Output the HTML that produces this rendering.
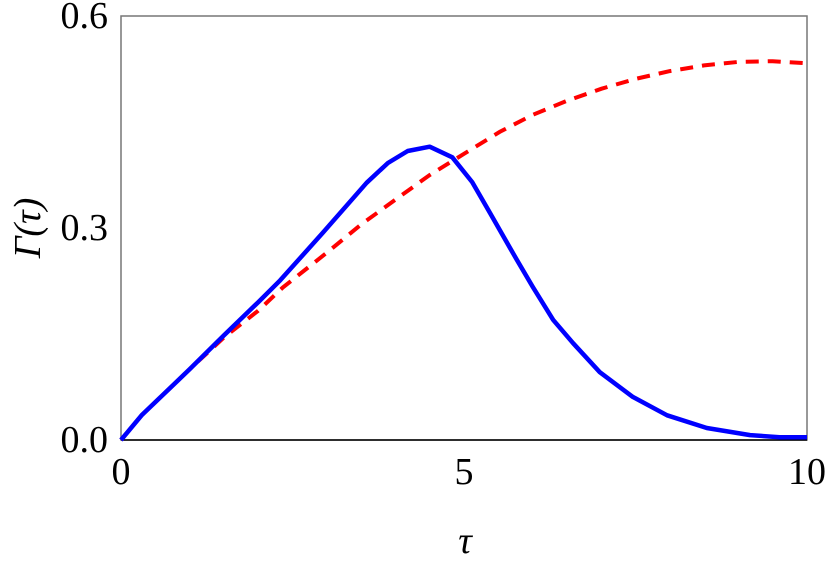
<!DOCTYPE html>
<html><head><meta charset="utf-8"><style>
body{margin:0;background:#fff}
svg text{font-family:"Liberation Serif",serif;font-size:38px;fill:#000}
</style></head><body>
<svg width="830" height="561">
<rect x="121" y="16" width="686" height="424" fill="none" stroke="#777" stroke-width="1.5"/>
<line x1="121" y1="440" x2="807" y2="440" stroke="#000" stroke-width="1.5"/>
<g id="ticks"></g>
<path id="red" fill="none" stroke="#f00" stroke-width="4" stroke-dasharray="13,9"/>
<path id="blue" fill="none" stroke="#00f" stroke-width="4.5" stroke-linejoin="round"/>
<text x="465" y="553" text-anchor="middle" font-style="italic">τ</text>
<text transform="translate(40,228) rotate(-90)" text-anchor="middle" font-style="italic">Γ(τ)</text>
</svg>
<script>
const xTicks=[0,5,10];
const yTicks=[0,0.3,0.6];
const yLabels=["0.0","0.3","0.6"];
const blueX=[0,0.3,1,1.5,2,2.32,2.94,3.58,3.89,4.18,4.5,4.83,5.12,5.38,5.77,6,6.3,6.59,6.98,7.46,7.96,8.54,9.17,9.6,10];
const blueY=[0,0.035,0.1,0.148,0.195,0.226,0.293,0.364,0.392,0.409,0.415,0.4,0.365,0.321,0.255,0.217,0.17,0.137,0.096,0.061,0.035,0.017,0.007,0.004,0.004];
const redX=[0,0.3,1,1.5,2,2.36,3,3.5,4,4.5,4.8,5,5.52,6,6.5,7,7.5,8,8.5,9,9.5,10];
const redY=[0,0.035,0.1,0.145,0.183,0.216,0.265,0.305,0.34,0.375,0.393,0.405,0.436,0.46,0.48,0.497,0.511,0.522,0.53,0.535,0.536,0.533];
const X=v=>121+v*68.6, Y=v=>440-v*706.7;
const path=(xs,ys)=>xs.map((x,i)=>(i?'L':'M')+X(x).toFixed(1)+','+Y(ys[i]).toFixed(1)).join('');
document.getElementById('blue').setAttribute('d',path(blueX,blueY));
document.getElementById('red').setAttribute('d',path(redX,redY));
const g=document.getElementById('ticks');const ns='http://www.w3.org/2000/svg';
xTicks.forEach(t=>{const e=document.createElementNS(ns,'text');e.setAttribute('x',X(t));e.setAttribute('y',484);e.setAttribute('text-anchor','middle');e.textContent=t;


g.appendChild(e);});
yTicks.forEach((t,i)=>{const e=document.createElementNS(ns,'text');e.setAttribute('x',108);e.setAttribute('y',Y(t)+12);e.setAttribute('text-anchor','end');e.textContent=yLabels[i];


g.appendChild(e);});
</script>
</body></html>
